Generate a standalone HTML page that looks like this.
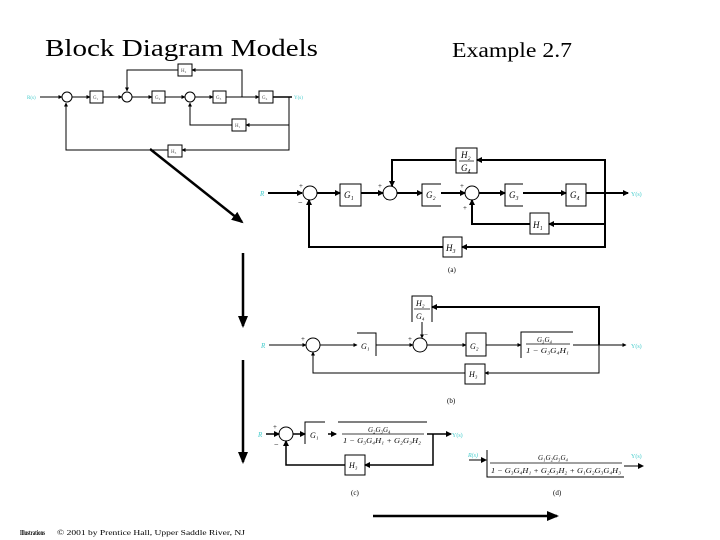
<!DOCTYPE html>
<html><head><meta charset="utf-8"><style>
html,body{margin:0;padding:0;background:#fff;width:720px;height:540px;overflow:hidden}
svg{display:block}
text{font-family:"Liberation Serif",serif}
</style></head><body>
<svg width="720" height="540" viewBox="0 0 720 540" xmlns="http://www.w3.org/2000/svg">
<defs>
<marker id="a" markerWidth="6" markerHeight="6" refX="5" refY="3" orient="auto" markerUnits="userSpaceOnUse"><path d="M0,0 L6,3 L0,6z" fill="#000"/></marker>
<marker id="s" markerWidth="4" markerHeight="4" refX="3.5" refY="2" orient="auto" markerUnits="userSpaceOnUse"><path d="M0,0 L4,2 L0,4z" fill="#000"/></marker>
<marker id="b" markerWidth="12" markerHeight="10" refX="10" refY="5" orient="auto" markerUnits="userSpaceOnUse"><path d="M0,0 L12,5 L0,10z" fill="#000"/></marker>
</defs>
<text x="45" y="56" font-size="24" textLength="273" lengthAdjust="spacingAndGlyphs">Block Diagram Models</text>
<text x="452" y="57" font-size="21" textLength="120" lengthAdjust="spacingAndGlyphs">Example 2.7</text>

<!-- mini diagram -->
<g stroke="#000" stroke-width="1" fill="none">
<line x1="40" y1="97" x2="62" y2="97" marker-end="url(#s)"/>
<circle cx="67" cy="97" r="5"/>
<line x1="72" y1="97" x2="90" y2="97" marker-end="url(#s)"/>
<rect x="90" y="91" width="13" height="12"/>
<line x1="103" y1="97" x2="122" y2="97" marker-end="url(#s)"/>
<circle cx="127" cy="97" r="5"/>
<line x1="132" y1="97" x2="152" y2="97" marker-end="url(#s)"/>
<rect x="152" y="91" width="13" height="12"/>
<line x1="165" y1="97" x2="185" y2="97" marker-end="url(#s)"/>
<circle cx="190" cy="97" r="5"/>
<line x1="195" y1="97" x2="213" y2="97" marker-end="url(#s)"/>
<rect x="213" y="91" width="13" height="12"/>
<line x1="226" y1="97" x2="259" y2="97" marker-end="url(#s)"/>
<rect x="259" y="91" width="14" height="12"/>
<line x1="273" y1="97" x2="292" y2="97" stroke-width="1.5"/>
<polyline points="242,97 242,70 192,70"/><line x1="195" y1="70" x2="192" y2="70" marker-end="url(#s)"/>
<rect x="178" y="64" width="14" height="12"/>
<polyline points="178,70 127,70 127,91" marker-end="url(#s)"/>
<polyline points="289,97 289,150 182,150" marker-end="url(#s)"/>
<rect x="168" y="145" width="14" height="12"/>
<polyline points="168,150 66,150 66,103" marker-end="url(#s)"/>
<polyline points="289,125 246,125" marker-end="url(#s)"/>
<rect x="232" y="119" width="14" height="12"/>
<polyline points="232,125 190,125 190,103" marker-end="url(#s)"/>
</g>
<g font-size="5" fill="#555">
<text x="27" y="99" fill="#4cc">R(s)</text><text x="93" y="99">G₁</text><text x="155" y="99">G₂</text><text x="216" y="99">G₃</text><text x="262" y="99">G₄</text>
<text x="181" y="72">H₂</text><text x="235" y="127">H₁</text><text x="171" y="153">H₃</text><text x="294" y="99" fill="#4cc">Y(s)</text>
</g>

<!-- big arrows -->
<g stroke="#000" stroke-width="2.5" fill="none">
<line x1="150" y1="149" x2="242" y2="222" marker-end="url(#b)"/>
<line x1="243" y1="253" x2="243" y2="326" marker-end="url(#b)"/>
<line x1="243" y1="360" x2="243" y2="462" marker-end="url(#b)"/>
<line x1="373" y1="516" x2="557" y2="516" marker-end="url(#b)"/>
</g>

<!-- diagram a -->
<g stroke="#000" stroke-width="2" fill="none">
<line x1="268" y1="193" x2="302" y2="193" marker-end="url(#a)"/>
<circle cx="310" cy="193" r="7" stroke-width="1"/>
<line x1="317" y1="193" x2="340" y2="193" marker-end="url(#a)"/>
<rect x="340" y="184" width="21" height="22" stroke-width="1"/>
<line x1="361" y1="193" x2="383" y2="193" marker-end="url(#a)"/>
<circle cx="390" cy="193" r="7" stroke-width="1"/>
<line x1="397" y1="193" x2="422" y2="193" marker-end="url(#a)"/>
<polyline points="441,184 422,184 422,206 441,206" stroke-width="1"/>
<line x1="441" y1="193" x2="465" y2="193" marker-end="url(#a)"/>
<circle cx="472" cy="193" r="7" stroke-width="1"/>
<line x1="479" y1="193" x2="505" y2="193" marker-end="url(#a)"/>
<polyline points="523,184 505,184 505,206 523,206" stroke-width="1"/>
<line x1="523" y1="193" x2="566" y2="193" marker-end="url(#a)"/>
<rect x="566" y="184" width="20" height="22" stroke-width="1"/>
<line x1="586" y1="193" x2="628" y2="193" marker-end="url(#a)"/>
<polyline points="605,193 605,160 477,160" marker-end="url(#a)"/>
<rect x="456" y="148" width="21" height="25" stroke-width="1"/>
<polyline points="456,160 392,160 392,186" marker-end="url(#a)"/>
<polyline points="605,193 605,247 462,247" marker-end="url(#a)"/>
<polyline points="605,224 549,224" marker-end="url(#a)"/>
<rect x="530" y="213" width="19" height="21" stroke-width="1"/>
<polyline points="530,224 472,224 472,200" marker-end="url(#a)"/>
<rect x="443" y="237" width="19" height="20" stroke-width="1"/>
<polyline points="443,247 309,247 309,200" marker-end="url(#a)"/>
</g>
<g font-size="9" font-style="italic">
<text x="260" y="196" fill="#4cc" font-size="7">R</text>
<text x="344" y="198">G₁</text><text x="426" y="198">G₂</text><text x="509" y="198">G₃</text><text x="570" y="198">G₄</text>
<text x="461" y="158">H₂</text><line x1="459" y1="161" x2="474" y2="161" stroke="#000" stroke-width="0.7"/><text x="461" y="171">G₄</text>
<text x="533" y="228">H₁</text><text x="446" y="251">H₃</text>
<text x="631" y="196" fill="#4cc" font-size="6" font-style="normal">Y(s)</text>
<text x="448" y="272" font-size="7" font-style="normal">(a)</text>
<text x="299" y="188" font-size="7" font-style="normal">+</text><text x="298" y="205" font-size="8" font-style="normal">−</text>
<text x="378" y="188" font-size="7" font-style="normal">+</text><text x="386" y="202" font-size="7" font-style="normal">−</text>
<text x="460" y="188" font-size="7" font-style="normal">+</text><text x="463" y="210" font-size="7" font-style="normal">+</text>
</g>

<!-- diagram b -->
<g stroke="#000" stroke-width="1" fill="none">
<line x1="269" y1="345" x2="306" y2="345" marker-end="url(#s)"/>
<circle cx="313" cy="345" r="7"/>
<line x1="320" y1="345" x2="357" y2="345" marker-end="url(#s)"/>
<polyline points="357,333 376,333 376,356"/>
<line x1="376" y1="345" x2="413" y2="345" marker-end="url(#s)"/>
<circle cx="420" cy="345" r="7"/>
<line x1="427" y1="345" x2="466" y2="345" marker-end="url(#s)"/>
<rect x="466" y="333" width="20" height="23"/>
<line x1="486" y1="345" x2="521" y2="345" marker-end="url(#s)"/>
<polyline points="573,332 521,332 521,358"/>
<line x1="573" y1="345" x2="626" y2="345" marker-end="url(#s)"/>
<polyline points="599,345 599,307 432,307" stroke-width="2" marker-end="url(#a)"/>
<polyline points="432,296 412,296 412,322"/><line x1="432" y1="296" x2="432" y2="322"/>
<line x1="422" y1="322" x2="422" y2="338" marker-end="url(#s)"/>
<polyline points="599,345 599,373 485,373" marker-end="url(#s)"/>
<rect x="465" y="364" width="20" height="20"/>
<polyline points="465,373 313,373 313,352" marker-end="url(#s)"/>
</g>
<g font-size="8" font-style="italic">
<text x="261" y="348" fill="#4cc" font-size="7">R</text>
<text x="361" y="349">G₁</text><text x="470" y="349">G₂</text>
<text x="416" y="306">H₂</text><line x1="414" y1="309" x2="430" y2="309" stroke="#000" stroke-width="0.7"/><text x="416" y="319">G₄</text>
<text x="537" y="342" font-size="7">G₃G₄</text><line x1="526" y1="344" x2="570" y2="344" stroke="#000" stroke-width="0.7"/><text x="526" y="353" font-size="7" textLength="43" lengthAdjust="spacingAndGlyphs">1 − G₃G₄H₁</text>
<text x="469" y="377">H₃</text>
<text x="631" y="348" fill="#4cc" font-size="6" font-style="normal">Y(s)</text>
<text x="447" y="403" font-size="7" font-style="normal">(b)</text>
<text x="301" y="341" font-size="7" font-style="normal">+</text>
<text x="408" y="341" font-size="7" font-style="normal">+</text><text x="424" y="337" font-size="7" font-style="normal">−</text>
</g>

<!-- diagram c -->
<g stroke="#000" stroke-width="1.5" fill="none">
<line x1="266" y1="434" x2="279" y2="434" marker-end="url(#a)"/>
<circle cx="286" cy="434" r="7" stroke-width="1"/>
<line x1="293" y1="434" x2="305" y2="434" marker-end="url(#a)"/>
<polyline points="325,422 305,422 305,444" stroke-width="1"/>
<line x1="328" y1="434" x2="336" y2="434" marker-end="url(#a)"/>
<line x1="338" y1="422" x2="427" y2="422" stroke-width="1"/>
<line x1="427" y1="434" x2="451" y2="434" marker-end="url(#a)"/>
<polyline points="433,434 433,465 365,465" marker-end="url(#a)"/>
<rect x="345" y="455" width="20" height="20" stroke-width="1"/>
<polyline points="345,465 286,465 286,441" marker-end="url(#a)"/>
</g>
<g font-size="8" font-style="italic">
<text x="258" y="437" fill="#4cc" font-size="7">R</text>
<text x="310" y="438">G₁</text>
<text x="368" y="432" font-size="7">G₂G₃G₄</text><line x1="342" y1="434" x2="424" y2="434" stroke="#000" stroke-width="0.7"/>
<text x="343" y="443" font-size="7" textLength="78" lengthAdjust="spacingAndGlyphs">1 − G₃G₄H₁ + G₂G₃H₂</text>
<text x="349" y="468">H₃</text>
<text x="452" y="437" fill="#4cc" font-size="6" font-style="normal">Y(s)</text>
<text x="351" y="495" font-size="7" font-style="normal">(c)</text>
<text x="273" y="429" font-size="7" font-style="normal">+</text><text x="274" y="447" font-size="8" font-style="normal">−</text>
</g>

<!-- diagram d -->
<g stroke="#000" stroke-width="1" fill="none">
<line x1="469" y1="460" x2="486" y2="460" marker-end="url(#a)"/>
<polyline points="487,450 487,477 624,477"/>
<line x1="624" y1="466" x2="643" y2="466" marker-end="url(#a)"/>
</g>
<g font-size="7" font-style="italic">
<text x="468" y="457" fill="#4cc" font-size="6">R(s)</text>
<text x="538" y="460">G₁G₂G₃G₄</text><line x1="490" y1="463" x2="622" y2="463" stroke="#000" stroke-width="0.7"/>
<text x="491" y="473" font-size="7" textLength="130" lengthAdjust="spacingAndGlyphs">1 − G₃G₄H₁ + G₂G₃H₂ + G₁G₂G₃G₄H₃</text>
<text x="631" y="458" fill="#4cc" font-size="6" font-style="normal">Y(s)</text>
<text x="553" y="495" font-style="normal">(d)</text>
</g>

<text x="20" y="535" font-size="7" font-weight="bold" textLength="25" lengthAdjust="spacingAndGlyphs">Illustrations</text>
<text x="57" y="535" font-size="7" textLength="188" lengthAdjust="spacingAndGlyphs">© 2001 by Prentice Hall, Upper Saddle River, NJ</text>
</svg>
</body></html>
